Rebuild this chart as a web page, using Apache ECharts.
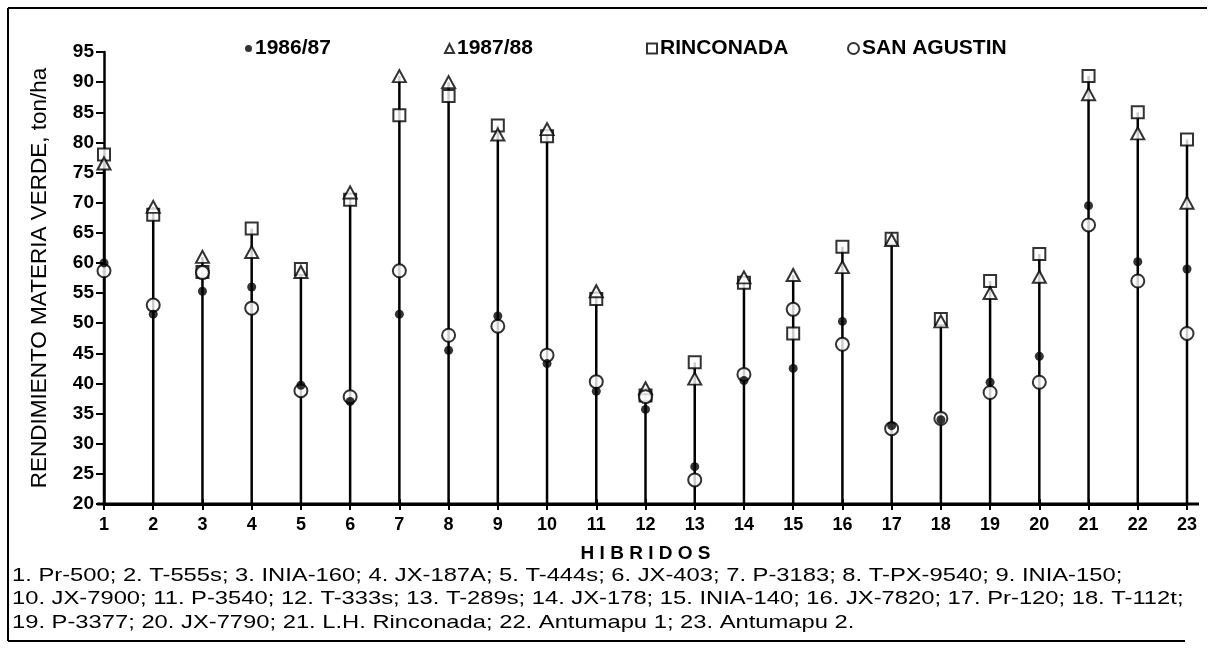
<!DOCTYPE html>
<html>
<head>
<meta charset="utf-8">
<script src="https://cdn.jsdelivr.net/npm/echarts@6/dist/echarts.min.js"></script>
<style>
html,body{margin:0;padding:0;background:#fff;}
#chart{width:1215px;height:648px;}
</style>
</head>
<body>
<div id="chart"></div>
<script>
// ---- data ----
var hibridos = [1,2,3,4,5,6,7,8,9,10,11,12,13,14,15,16,17,18,19,20,21,22,23];
var s1986 = [60,51.5,55.3,56,39.7,37,51.5,45.5,51.2,43.3,38.7,35.7,26.2,40.5,42.5,50.3,33,34,40.2,44.5,69.5,60.2,59];
var s1987 = [76.5,69.3,61,61.8,58.5,71.7,91,90,81.3,82.2,55.3,39.2,40.8,57.6,58,59.3,63.8,50.3,55,57.7,88,81.5,70];
var rinconada = [78,68,58.5,65.7,59,70.5,84.5,87.7,82.8,81,54,38,43.5,56.7,48.3,62.7,64,50.7,57,61.5,91,85,80.5];
var sanAgustin = [58.7,53,58.4,52.5,38.8,37.8,58.7,48,49.5,44.7,40.3,37.8,24,41.5,52.3,46.5,32.5,34.2,38.5,40.2,66.3,57,48.3];
var seriesNames = ['1986/87','1987/88','RINCONADA','SAN AGUSTIN'];
var yTicks = [20,25,30,35,40,45,50,55,60,65,70,75,80,85,90,95];
var yTitle = 'RENDIMIENTO MATERIA VERDE, ton/ha';
var xTitle = 'H I B R I D O S';
var footnoteLines = [
  '1. Pr-500; 2. T-555s; 3. INIA-160; 4. JX-187A; 5. T-444s; 6. JX-403; 7. P-3183; 8. T-PX-9540; 9. INIA-150;',
  '10. JX-7900; 11. P-3540; 12. T-333s; 13. T-289s; 14. JX-178; 15. INIA-140; 16. JX-7820; 17. Pr-120; 18. T-112t;',
  '19. P-3377; 20. JX-7790; 21. L.H. Rinconada; 22. Antumapu 1; 23. Antumapu 2.'
];

var stems = hibridos.map(function(h,i){
  return [h, Math.max(s1986[i], s1987[i], rinconada[i], sanAgustin[i])];
});
function pairs(arr){ return hibridos.map(function(h,i){ return [h, arr[i]]; }); }

var chart = echarts.init(document.getElementById('chart'), null, {renderer:'canvas'});
var FONT = 'Liberation Sans, Arial, sans-serif';
var hollow = {color:'#fff', borderColor:'#000', borderWidth:2};

function legendAt(name, left, size){
  return {
    data:[name], left:left, top:33, itemWidth:size, itemHeight:size, itemGap:4,
    textStyle:{fontFamily:FONT, fontWeight:'bold', fontSize:21, color:'#000', padding:[0,0,0,-2]},
    selectedMode:false
  };
}

var option = {
  backgroundColor:'#fff',
  animation:false,
  grid:{left:104, right:28, top:52, bottom:144, containLabel:false},
  legend:[
    legendAt('1986/87', 240, 7),
    legendAt('1987/88', 439, 9),
    legendAt('RINCONADA', 641, 10),
    legendAt('SAN AGUSTIN', 842, 11)
  ],
  xAxis:[{
    type:'value', min:1, max:23, interval:1,
    axisLine:{show:true, onZero:false, lineStyle:{color:'#000', width:3}},
    axisTick:{show:true, length:6, lineStyle:{color:'#000', width:2}},
    axisLabel:{fontFamily:FONT, fontWeight:'bold', fontSize:18, color:'#000', margin:12},
    splitLine:{show:false},
    name: xTitle, nameLocation:'middle', nameGap:40,
    nameTextStyle:{fontFamily:FONT, fontWeight:'bold', fontSize:19, color:'#000'}
  },{
    type:'value', min:1, max:23, interval:1, position:'bottom',
    axisLine:{show:false, onZero:false},
    axisTick:{show:true, inside:true, length:5, lineStyle:{color:'#000', width:2}},
    axisLabel:{show:false}, splitLine:{show:false}
  }],
  yAxis:{
    type:'value', min:20, max:95, interval:5,
    axisLine:{show:true, lineStyle:{color:'#000', width:2.5}},
    axisTick:{show:true, length:8, lineStyle:{color:'#000', width:2}},
    axisLabel:{fontFamily:FONT, fontWeight:'bold', fontSize:19, color:'#000', margin:10,
      formatter:function(v){ return yTicks.indexOf(v) >= 0 ? String(v) : ''; }},
    splitLine:{show:false},
    name: yTitle, nameLocation:'middle', nameGap:53, nameRotate:90,
    nameTextStyle:{fontFamily:FONT, fontSize:22.5, color:'#000'}
  },
  graphic:[
    {type:'line', shape:{x1:8,y1:8,x2:1207,y2:8}, style:{stroke:'#000', lineWidth:2}, silent:true},
    {type:'line', shape:{x1:8,y1:8,x2:8,y2:641}, style:{stroke:'#000', lineWidth:2}, silent:true},
    {type:'line', shape:{x1:8,y1:641,x2:1185,y2:641}, style:{stroke:'#000', lineWidth:2}, silent:true},
    {type:'line', shape:{x1:97,y1:504,x2:1199,y2:504}, style:{stroke:'#000', lineWidth:3}, silent:true}
  ].concat(footnoteLines.map(function(t,i){
    return {type:'text', x:12, y:566 + i*23.5, scaleX:1.25, silent:true,
      style:{text:t, fill:'#000', font:'19px "Liberation Sans", Arial, sans-serif'}};
  })),
  series:[
    {
      type:'custom', name:'stems', silent:true, z:1,
      data: stems,
      renderItem:function(params, api){
        var x = api.value(0), top = api.value(1);
        var p0 = api.coord([x, 20]), p1 = api.coord([x, top]);
        return {type:'line', shape:{x1:p0[0], y1:p0[1], x2:p1[0], y2:p1[1]}, style:{stroke:'#000', lineWidth:2.5}};
      }
    },
    {type:'scatter', name:seriesNames[2], symbol:'rect', symbolSize:12, z:3, data:pairs(rinconada), itemStyle:hollow},
    {type:'scatter', name:seriesNames[1], symbol:'triangle', symbolSize:[13,12], z:4, data:pairs(s1987), itemStyle:hollow},
    {type:'scatter', name:seriesNames[3], symbol:'circle', symbolSize:13, z:5, data:pairs(sanAgustin), itemStyle:hollow},
    {type:'scatter', name:seriesNames[0], symbol:'circle', symbolSize:9, z:6, data:pairs(s1986), itemStyle:{color:'#000'}}
  ]
};
chart.setOption(option);
</script>
</body>
</html>
